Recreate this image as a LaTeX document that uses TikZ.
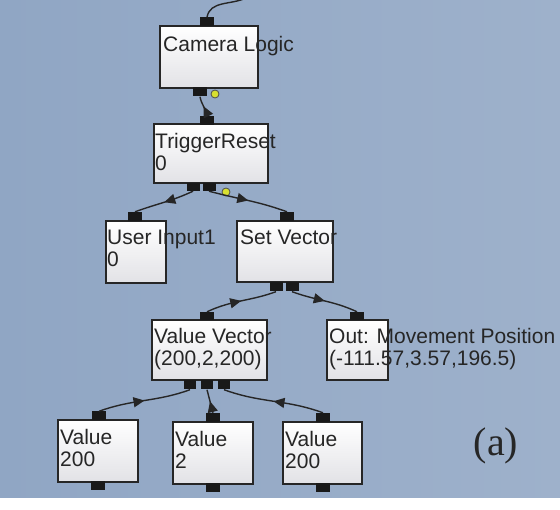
\documentclass[tikz,border=0pt]{standalone}
\usepackage{fontspec}
\setmainfont{Liberation Sans}
\newfontfamily\capfont{Liberation Serif}
\usetikzlibrary{decorations.markings,arrows.meta}
\definecolor{bgblue}{HTML}{90A6C4}
\definecolor{bglight}{HTML}{9EB1CB}
\definecolor{boxgray}{HTML}{E2E2E6}
\definecolor{porty}{HTML}{D8E030}
\tikzset{
  blk/.style={draw=black!85, line width=1.6pt, top color=white, bottom color=boxgray, inner sep=0pt},
  port/.style={fill=black!90, draw=none, minimum width=14pt, minimum height=9pt, inner sep=0pt},
  lbl/.style={anchor=north west, inner sep=0pt, align=left, text=black!85, font=\fontsize{21}{22}\selectfont},
  ydot/.style={circle, fill=porty, draw=black!70, line width=0.8pt, minimum size=8pt, inner sep=0pt},
  link/.style={line width=1.4pt, draw=black!85, decoration={markings, mark=at position 0.5 with {\arrow{Triangle[length=11pt,width=10pt]}}}, postaction={decorate}},
  rlink/.style={line width=1.4pt, draw=black!85, decoration={markings, mark=at position 0.5 with {\arrowreversed{Triangle[length=11pt,width=10pt]}}}, postaction={decorate}}
}
\begin{document}
\begin{tikzpicture}[x=1pt,y=-1pt]
\useasboundingbox (0,0) rectangle (560,510);
\shade[left color=bgblue, right color=bglight] (0,0) rectangle (560,498);
\fill[white] (0,498) rectangle (560,510);

% boxes
\node[blk, minimum width=98pt, minimum height=62pt] (cam) at (209,57) {};
\node[blk, minimum width=114pt, minimum height=59pt] (trig) at (211,153.5) {};
\node[blk, minimum width=60pt, minimum height=62pt] (user) at (136,252) {};
\node[blk, minimum width=96pt, minimum height=61pt] (setv) at (285,251.5) {};
\node[blk, minimum width=115pt, minimum height=60pt] (vv) at (209.5,350) {};
\node[blk, minimum width=61pt, minimum height=60pt] (out) at (357.5,350) {};
\node[blk, minimum width=80pt, minimum height=62pt] (va) at (98,451) {};
\node[blk, minimum width=80pt, minimum height=62pt] (vb) at (213,453) {};
\node[blk, minimum width=79pt, minimum height=62pt] (vc) at (322.5,453) {};

% ports
\node[port] (camT) at (207,22) {};
\node[port] (camB) at (200,92) {};
\node[ydot] (camY) at (215,94) {};
\node[port] (trigT) at (207,120.5) {};
\node[port, minimum width=13pt, minimum height=8pt] (trigB1) at (193,187) {};
\node[port, minimum width=13pt, minimum height=8pt] (trigB2) at (209,187) {};
\node[ydot] (trigY) at (226,192) {};
\node[port] (userT) at (135,216.5) {};
\node[port] (setvT) at (287,216.5) {};
\node[port, minimum width=13pt] (setvB1) at (276,287) {};
\node[port, minimum width=13pt] (setvB2) at (292,287) {};
\node[port, minimum height=8pt] (vvT) at (207,316) {};
\node[port, minimum width=12pt] (vvB1) at (190,385) {};
\node[port, minimum width=12pt] (vvB2) at (207,385) {};
\node[port, minimum width=12pt] (vvB3) at (224,385) {};
\node[port, minimum height=8pt] (outT) at (357,316) {};
\node[port] (vaT) at (99,416) {};
\node[port] (vaB) at (98,486) {};
\node[port] (vbT) at (213,417.5) {};
\node[port] (vbB) at (213,488) {};
\node[port] (vcT) at (323,417.5) {};
\node[port] (vcB) at (323,488) {};

% connectors
\coordinate (topend) at (246,-2);
\draw[line width=1.4pt, black!85] (camT.north) to[out=80, in=205] (topend);
\draw[rlink] (camB.south) to[out=-80, in=100] (trigT.north);
\draw[link] (trigB1.south) to[out=-155, in=20] (userT.north);
\draw[link] (trigB2.south) to[out=-15, in=160] (setvT.north);
\draw[rlink] (setvB1.south) to[out=-160, in=25] (vvT.north);
\draw[link] (setvB2.south) to[out=-20, in=155] (outT.north);
\draw[rlink] (vvB1.south) to[out=-160, in=20] (vaT.north);
\draw[rlink] (vvB2.south) -- (vbT.north);
\draw[rlink] (vvB3.south) to[out=-20, in=160] (vcT.north);

% texts
\node[lbl] (camL) at (163,36) {Camera Logic};
\node[lbl] (trigL) at (155,133) {TriggerReset\\0};
\node[lbl] (userL) at (107,230) {User Input1\\0};
\node[lbl] (setvL) at (240,230) {Set Vector};
\node[lbl] (vvL) at (154,328) {Value Vector\\(200,2,200)};
\node[lbl] (outL) at (329,328) {Out: Movement Position\\(-111.57,3.57,196.5)};
\node[lbl] (vaL) at (60,429) {Value\\200};
\node[lbl] (vbL) at (175,431) {Value\\2};
\node[lbl] (vcL) at (285,431) {Value\\200};
\node[anchor=center, inner sep=0pt, text=black!85, font=\capfont\fontsize{40}{40}\selectfont] (cap) at (496,446) {(a)};
\end{tikzpicture}
\end{document}
